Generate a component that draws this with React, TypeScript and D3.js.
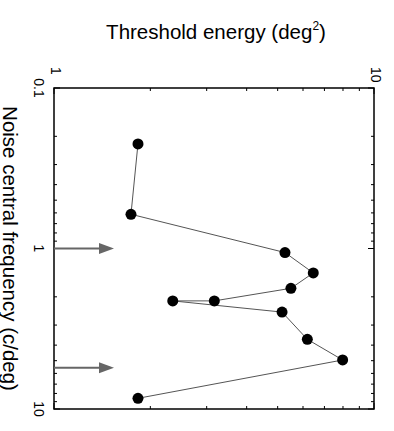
import { useMemo } from "react";
import * as d3 from "d3";

// Noise central frequency (c/deg) and threshold energy (deg^2), in plotted order
const frequency = [0.223, 0.612, 1.06, 1.42, 1.77, 2.12, 2.12, 2.49, 3.68, 4.95, 8.58];
const energy = [1.83, 1.74, 5.27, 6.46, 5.5, 3.17, 2.35, 5.16, 6.19, 7.98, 1.83];

// arrows marking two frequencies, drawn from the axis
const arrowFrequency = [1, 5.53];
const arrowTipEnergy = 1.54;

const energyTicks = [1, 10];
const energyTickLabels = ["1", "10"];
const frequencyTicks = [0.1, 1, 10];
const frequencyTickLabels = ["0.1", "1", "10"];

const W = 394;
const H = 431;
const FONT = "'Liberation Sans', Arial, Helvetica, sans-serif";

export default function App() {
  const margin = { top: 88, right: 20, bottom: 22, left: 54 };

  const x = useMemo(
    () => d3.scaleLog().domain([1, 10]).range([margin.left, W - margin.right]),
    []
  );
  const y = useMemo(
    () => d3.scaleLog().domain([0.1, 10]).range([margin.top, H - margin.bottom]),
    []
  );

  const [x0, x1] = x.range();
  const [y0, y1] = y.range();

  const points = frequency.map((f, i) => ({ f, e: energy[i] }));
  const line = d3
    .line<{ f: number; e: number }>()
    .x((d) => x(d.e))
    .y((d) => y(d.f));

  const xMinor = x.ticks();
  const yMinor = y.ticks();
  const isMajor = (v: number) => Math.abs(Math.log10(v) - Math.round(Math.log10(v))) < 1e-6;

  const headLen = 15;
  const headHalf = 5.5;

  return (
    <svg
      width={W}
      height={H}
      style={{ position: "absolute", left: 0, top: 0, background: "#fff" }}
      fontFamily={FONT}
    >
      {/* frame */}
      <rect x={x0} y={y0} width={x1 - x0} height={y1 - y0} fill="none" stroke="#000" strokeWidth={1.5} />

      {/* energy ticks, top and bottom, inward */}
      {xMinor.map((t, i) => {
        const len = isMajor(t) ? 6 : 3;
        return (
          <g key={"xt" + i} stroke="#000" strokeWidth={1}>
            <line x1={x(t)} x2={x(t)} y1={y0} y2={y0 + len} />
            <line x1={x(t)} x2={x(t)} y1={y1} y2={y1 - len} />
          </g>
        );
      })}

      {/* frequency ticks, left and right, inward */}
      {yMinor.map((t, i) => {
        const len = isMajor(t) ? 6 : 3;
        return (
          <g key={"yt" + i} stroke="#000" strokeWidth={1}>
            <line x1={x0} x2={x0 + len} y1={y(t)} y2={y(t)} />
            <line x1={x1} x2={x1 - len} y1={y(t)} y2={y(t)} />
          </g>
        );
      })}

      {/* energy tick labels (rotated) */}
      {energyTicks.map((t, i) => (
        <text
          key={"xl" + i}
          transform={`translate(${x(t) - 3},${y0 - 21}) rotate(90)`}
          fontSize={14}
          textAnchor="start"
          fill="#000"
        >
          {energyTickLabels[i]}
        </text>
      ))}

      {/* frequency tick labels (rotated) */}
      {frequencyTicks.map((t, i) => (
        <text
          key={"yl" + i}
          transform={`translate(${x0 - 20},${y(t)}) rotate(90)`}
          fontSize={14}
          textAnchor="middle"
          fill="#000"
        >
          {frequencyTickLabels[i]}
        </text>
      ))}

      {/* axis titles */}
      <text x={216} y={39} fontSize={20.5} textAnchor="middle" fill="#000">
        Threshold energy (deg
        <tspan fontSize={12} dy={-9}>2</tspan>
        <tspan dy={9}>)</tspan>
      </text>
      <text
        transform={`translate(3,${(y0 + y1) / 2}) rotate(90)`}
        fontSize={20.5}
        textAnchor="middle"
        fill="#000"
      >
        Noise central frequency (c/deg)
      </text>

      {/* arrows */}
      {arrowFrequency.map((f, i) => {
        const yy = y(f);
        const tip = x(arrowTipEnergy);
        return (
          <g key={"ar" + i} fill="#666" stroke="#666">
            <line x1={x0} x2={tip - headLen + 1} y1={yy} y2={yy} strokeWidth={2} />
            <path
              d={`M${tip},${yy} L${tip - headLen},${yy - headHalf} L${tip - headLen},${yy + headHalf} Z`}
              stroke="none"
            />
          </g>
        );
      })}

      {/* data */}
      <path d={line(points) ?? ""} fill="none" stroke="#555" strokeWidth={1} />
      {points.map((p, i) => (
        <circle key={"pt" + i} cx={x(p.e)} cy={y(p.f)} r={5.5} fill="#000" />
      ))}
    </svg>
  );
}
